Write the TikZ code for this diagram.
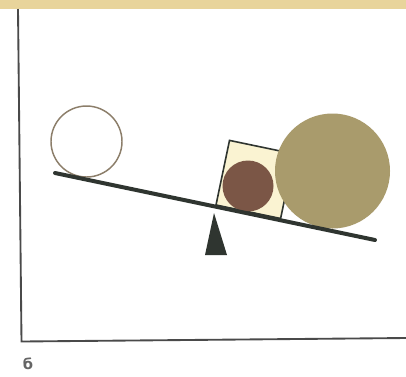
\documentclass[tikz,border=0pt]{standalone}
\usepackage{fontspec}
\newfontfamily\cyrfont{DejaVu Sans}
\definecolor{band}{HTML}{E8D49B}
\definecolor{frame}{HTML}{4A4A4A}
\definecolor{lever}{HTML}{2F3530}
\definecolor{bigball}{HTML}{A99B6C}
\definecolor{smallball}{HTML}{7B5646}
\definecolor{boxfill}{HTML}{FAF3D2}
\definecolor{ringcol}{HTML}{8C7E6A}
\tikzset{
  axisline/.style={draw=frame, line width=1.4pt},
  leverline/.style={draw=lever, line width=3pt, line cap=round},
  ball/.style={circle, inner sep=0pt, outer sep=0pt},
}
\begin{document}
\begin{tikzpicture}[x=0.75pt,y=-0.75pt]
\useasboundingbox (0,0) rectangle (406,376);
\fill[white] (0,0) rectangle (406,376);
\fill[band] (0,0) rectangle (406,9);
% axes
\coordinate (top) at (18,9);
\coordinate (corner) at (21.5,341.5);
\coordinate (right) at (406,338);
\draw[axisline] (top) -- (corner) -- (right);
\node[font=\cyrfont\bfseries\fontsize{11}{12}\selectfont, text=frame!85] (lbl) at (28,364) {б};
% lever
\coordinate (L1) at (55,173);
\coordinate (L2) at (375,240);
% square on lever
\coordinate (BL) at (216,205);
\coordinate (BR) at (280.6,218.5);
\coordinate (TR) at (294.1,153.9);
\coordinate (TL) at (229.5,140.4);
\draw[draw=lever, line width=1.2pt, fill=boxfill] (BL) -- (BR) -- (TR) -- (TL) -- cycle;
\node[ball, fill=smallball, minimum size=51*0.75pt] (small) at (248,186) {};
\node[ball, fill=bigball, minimum size=115*0.75pt] (big) at (332.5,171) {};
\node[ball, draw=ringcol, line width=1.1pt, fill=white, minimum size=71*0.75pt] (white) at (86.5,141.5) {};
\draw[leverline] (L1) -- (L2);
% fulcrum
\coordinate (apex) at (214,213);
\coordinate (b1) at (205,255);
\coordinate (b2) at (227,255);
\fill[lever] (apex) -- (b2) -- (b1) -- cycle;
\end{tikzpicture}
\end{document}
